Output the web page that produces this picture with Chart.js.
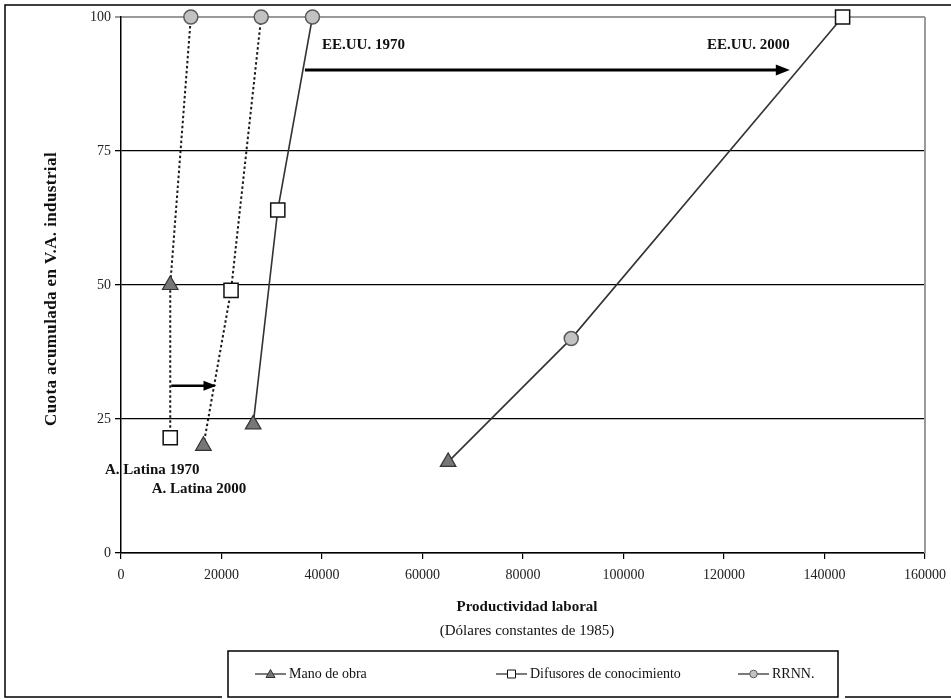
<!DOCTYPE html>
<html>
<head>
<meta charset="utf-8">
<script src="https://cdn.jsdelivr.net/npm/chart.js@4/dist/chart.umd.min.js"></script>
<style>
  html, body { margin: 0; padding: 0; background: #fff; }
  #wrap { width: 951px; height: 699px; position: relative; }
</style>
</head>
<body>
<div id="wrap"><canvas id="c" width="951" height="699"></canvas></div>
<script>
// Regions / years, each traced as a cumulative curve
const regions = ['A. Latina 1970', 'A. Latina 2000', 'EE.UU. 1970', 'EE.UU. 2000'];

// Sector groups: productivity (x) and cumulative share of industrial value added (y), per region
const seriesNames = ['Mano de obra', 'Difusores de conocimiento', 'RRNN.'];
const manoObraX   = [9800, 16400, 26300, 65100];
const manoObraY   = [50, 20, 24, 17];
const difusoresX  = [9800, 21900, 31200, 143600];
const difusoresY  = [21.5, 49, 64, 100];
const rrnnX       = [13900, 27900, 38100, 89600];
const rrnnY       = [100, 100, 100, 40];

// Axis ticks
const xTickValues = [0, 20000, 40000, 60000, 80000, 100000, 120000, 140000, 160000];
const yTickValues = [0, 25, 50, 75, 100];

// Shift arrows (A. Latina 1970 -> 2000, EE.UU. 1970 -> 2000)
const arrowFromX = [10000, 36600];
const arrowToX   = [19000, 133100];
const arrowY     = [31.2, 90.1];

// Region labels, anchored in data units (left edge, vertical middle)
const labelX = [-3200, 6100, 40000, 116600];
const labelY = [15.5, 11.9, 94.8, 94.8];

const SERIF = '"Liberation Serif", "DejaVu Serif", serif';

function toPoints(xs, ys) { return xs.map((x, i) => ({ x: x, y: ys[i] })); }

// Each region's curve joins its three sector points, ordered by cumulative share
function regionCurve(i) {
  const pts = [
    { x: manoObraX[i], y: manoObraY[i] },
    { x: difusoresX[i], y: difusoresY[i] },
    { x: rrnnX[i], y: rrnnY[i] }
  ];
  return pts.sort((a, b) => a.y - b.y);
}

const markerStyles = [
  { pointStyle: 'triangle', radius: 9, bg: '#777777', border: '#333333', bw: 1.2 },
  { pointStyle: 'rect', radius: 10, bg: '#ffffff', border: '#111111', bw: 1.5 },
  { pointStyle: 'circle', radius: 7, bg: '#c2c2c2', border: '#5a5a5a', bw: 1.5 }
];

const markerData = [
  toPoints(manoObraX, manoObraY),
  toPoints(difusoresX, difusoresY),
  toPoints(rrnnX, rrnnY)
];

const datasets = [];
seriesNames.forEach((name, k) => {
  const s = markerStyles[k];
  datasets.push({
    label: name,
    data: markerData[k],
    showLine: false,
    pointStyle: s.pointStyle,
    pointRadius: s.radius,
    pointHoverRadius: s.radius,
    pointBackgroundColor: s.bg,
    pointBorderColor: s.border,
    pointBorderWidth: s.bw,
    clip: false,
    order: 0
  });
});
regions.forEach((name, i) => {
  const latam = i < 2;
  datasets.push({
    label: name,
    data: regionCurve(i),
    showLine: true,
    pointRadius: 0,
    borderColor: latam ? '#1a1a1a' : '#333333',
    borderWidth: latam ? 2 : 1.6,
    borderDash: latam ? [2.5, 2.5] : [],
    fill: false,
    clip: false,
    order: 1
  });
});

function drawArrow(ctx, x0, x1, y, shaftW, headLen, headHalf) {
  ctx.save();
  ctx.strokeStyle = '#000';
  ctx.fillStyle = '#000';
  ctx.lineWidth = shaftW;
  ctx.beginPath();
  ctx.moveTo(x0, y);
  ctx.lineTo(x1 - headLen + 1, y);
  ctx.stroke();
  ctx.beginPath();
  ctx.moveTo(x1, y);
  ctx.lineTo(x1 - headLen, y - headHalf);
  ctx.lineTo(x1 - headLen, y + headHalf);
  ctx.closePath();
  ctx.fill();
  ctx.restore();
}

function legendMarker(ctx, k, x, y) {
  const s = markerStyles[k];
  ctx.save();
  ctx.fillStyle = s.bg;
  ctx.strokeStyle = s.border;
  ctx.lineWidth = 1;
  ctx.beginPath();
  if (s.pointStyle === 'triangle') {
    ctx.moveTo(x, y - 4.5);
    ctx.lineTo(x + 4.5, y + 3.5);
    ctx.lineTo(x - 4.5, y + 3.5);
    ctx.closePath();
  } else if (s.pointStyle === 'rect') {
    ctx.rect(x - 4, y - 4, 8, 8);
  } else {
    ctx.arc(x, y, 3.8, 0, Math.PI * 2);
  }
  ctx.fill();
  ctx.stroke();
  ctx.restore();
}

const decor = {
  id: 'decor',
  beforeDraw(chart) {
    const ctx = chart.ctx;
    ctx.save();
    ctx.fillStyle = '#fff';
    ctx.fillRect(0, 0, chart.width, chart.height);
    ctx.restore();
  },
  beforeDatasetsDraw(chart) {
    const { ctx, chartArea: a } = chart;
    // grey right-hand border of the plot area
    ctx.save();
    ctx.strokeStyle = '#9a9a9a';
    ctx.lineWidth = 2;
    ctx.beginPath();
    ctx.moveTo(a.right, a.top);
    ctx.lineTo(a.right, a.bottom);
    ctx.stroke();
    ctx.restore();
  },
  afterDatasetsDraw(chart) {
    const { ctx, scales } = chart;
    const xs = scales.x, ys = scales.y;
    // shift arrows
    arrowFromX.forEach((v, i) => {
      const big = i === 1;
      drawArrow(ctx, xs.getPixelForValue(v), xs.getPixelForValue(arrowToX[i]),
        ys.getPixelForValue(arrowY[i]), big ? 3 : 2.5, big ? 14 : 13, big ? 5.5 : 5);
    });
    // region labels
    ctx.save();
    ctx.fillStyle = '#111';
    ctx.font = 'bold 15px ' + SERIF;
    ctx.textAlign = 'left';
    ctx.textBaseline = 'middle';
    regions.forEach((t, i) => {
      ctx.fillText(t, xs.getPixelForValue(labelX[i]), ys.getPixelForValue(labelY[i]));
    });
    ctx.restore();
  },
  afterDraw(chart) {
    const ctx = chart.ctx;
    const a = chart.chartArea;
    const cx = (a.left + a.right) / 2 + 4;
    ctx.save();
    // outer frame
    ctx.strokeStyle = '#000';
    ctx.lineWidth = 1.5;
    ctx.beginPath();
    ctx.moveTo(222, 697);
    ctx.lineTo(5, 697);
    ctx.lineTo(5, 5);
    ctx.lineTo(960, 5);
    ctx.moveTo(845, 697);
    ctx.lineTo(960, 697);
    ctx.stroke();

    // axis titles
    ctx.fillStyle = '#111';
    ctx.textAlign = 'center';
    ctx.textBaseline = 'middle';
    ctx.font = 'bold 15px ' + SERIF;
    ctx.fillText('Productividad laboral', cx, 607);
    ctx.font = '15px ' + SERIF;
    ctx.fillText('(Dólares constantes de 1985)', cx, 631);
    ctx.save();
    ctx.translate(52, 289);
    ctx.rotate(-Math.PI / 2);
    ctx.font = 'bold 17px ' + SERIF;
    if ('letterSpacing' in ctx) ctx.letterSpacing = '0.4px';
    ctx.fillText('Cuota acumulada en V.A. industrial', 0, 0);
    ctx.restore();

    // legend box
    ctx.fillStyle = '#fff';
    ctx.fillRect(228, 651, 610, 46);
    ctx.strokeStyle = '#000';
    ctx.lineWidth = 1.5;
    ctx.strokeRect(228, 651, 610, 46);
    const starts = [255, 496, 738];
    const ly = 674;
    seriesNames.forEach((name, k) => {
      const x0 = starts[k];
      ctx.strokeStyle = '#222';
      ctx.lineWidth = 1.2;
      ctx.beginPath();
      ctx.moveTo(x0, ly);
      ctx.lineTo(x0 + 31, ly);
      ctx.stroke();
      legendMarker(ctx, k, x0 + 15.5, ly);
      ctx.fillStyle = '#111';
      ctx.font = '14px ' + SERIF;
      ctx.textAlign = 'left';
      ctx.fillText(name, x0 + 34, ly);
    });
    ctx.restore();
  }
};

new Chart(document.getElementById('c'), {
  type: 'scatter',
  data: { datasets: datasets },
  plugins: [decor],
  options: {
    responsive: false,
    animation: false,
    events: [],
    layout: { padding: { top: 17, right: 26, left: 0, bottom: 0 } },
    plugins: { legend: { display: false }, tooltip: { enabled: false }, title: { display: false } },
    scales: {
      x: {
        type: 'linear',
        min: 0,
        max: 160000,
        afterBuildTicks: (s) => { s.ticks = xTickValues.map(v => ({ value: v })); },
        afterFit: (s) => { s.height = 146; s.paddingRight = 0; s.paddingLeft = 0; },
        ticks: {
          autoSkip: false,
          maxRotation: 0,
          padding: 8,
          color: '#222',
          font: { family: SERIF, size: 14 },
          callback: (v) => String(v)
        },
        grid: { drawOnChartArea: false, drawTicks: true, tickLength: 6, color: '#000', lineWidth: 1.2 },
        border: { color: '#000', width: 1.5 }
      },
      y: {
        type: 'linear',
        min: 0,
        max: 100,
        afterBuildTicks: (s) => { s.ticks = yTickValues.map(v => ({ value: v })); },
        afterFit: (s) => { s.width = 121; s.paddingTop = 0; s.paddingBottom = 0; },
        ticks: {
          padding: 4,
          color: '#222',
          font: { family: SERIF, size: 14 },
          callback: (v) => String(v)
        },
        grid: {
          drawTicks: true,
          tickLength: 6,
          color: (c) => (c.tick && c.tick.value === 100 ? '#9a9a9a' : '#000'),
          lineWidth: (c) => (c.tick && c.tick.value === 100 ? 2 : 1.3)
        },
        border: { color: '#000', width: 1.5 }
      }
    }
  }
});
</script>
</body>
</html>
